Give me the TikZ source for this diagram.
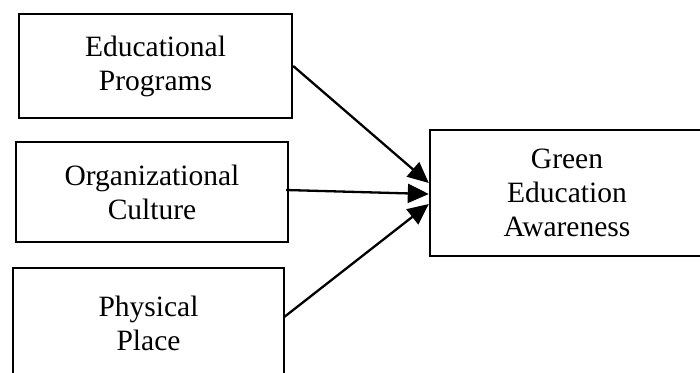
\documentclass[tikz,border=0pt]{standalone}
\usepackage{fontspec}
\setmainfont{Liberation Serif}
\usetikzlibrary{arrows.meta}
\begin{document}
\begin{tikzpicture}[x=1pt,y=-1pt,
  box/.style={draw,line width=2.4pt,rectangle,align=center,inner sep=0pt,
    font=\fontsize{29.5}{34}\selectfont},
  arr/.style={line width=2.3pt,-{Triangle[length=21pt,width=19pt]}}]
\useasboundingbox (0,0) rectangle (700,372);
\clip (0,0) rectangle (700,372);
\node[box,minimum width=273pt,minimum height=104pt] (edu) at (155.5,66) {Educational\\Programs};
\node[box,minimum width=272pt,minimum height=100pt] (org) at (152,192) {Organizational\\Culture};
\node[box,minimum width=271pt,minimum height=110pt] (phy) at (148.5,323) {Physical\\Place};
\node[box,minimum width=274pt,minimum height=126pt] (gea) at (567,193) {Green\\Education\\Awareness};
\draw[arr] (edu.east) -- ([yshift=10pt]gea.west);
\draw[arr] ([xshift=-3pt,yshift=2pt]org.east) -- ([yshift=-1pt]gea.west);
\draw[arr] ([xshift=-1pt,yshift=6pt]phy.east) -- ([yshift=-11pt]gea.west);
\end{tikzpicture}
\end{document}
